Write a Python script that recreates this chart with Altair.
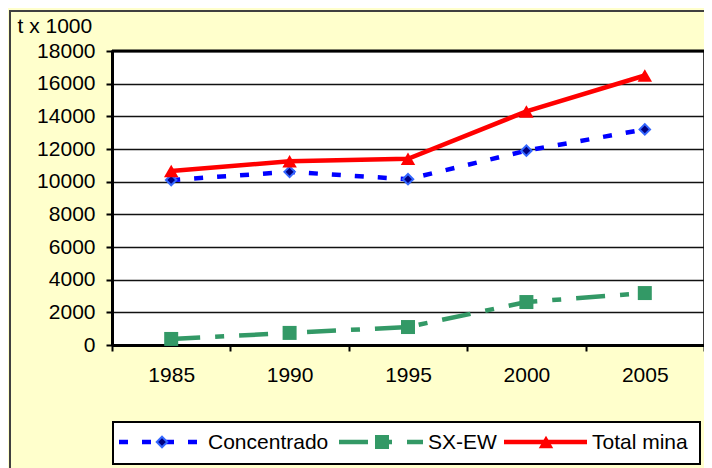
import altair as alt
import pandas as pd

years = ["1985", "1990", "1995", "2000", "2005"]
concentrado = [10100, 10600, 10150, 11900, 13200]
sxew = [370, 740, 1100, 2630, 3180]
total_mina = [10650, 11250, 11400, 14300, 16500]
series_names = ["Concentrado", "SX-EW", "Total mina"]
y_ticks = [0, 2000, 4000, 6000, 8000, 10000, 12000, 14000, 16000, 18000]

rows = []
for name, vals in zip(series_names, [concentrado, sxew, total_mina]):
    for yr, v in zip(years, vals):
        rows.append({"year": yr, "value": v, "series": name})
df = pd.DataFrame(rows)

FONT = "Liberation Sans"
FS = 21
W, H = 592, 294

styles = {
    "Concentrado": dict(color="#0000FF", dash=[9, 14], shape="diamond", size=110,
                        fill="#000080", stroke="#3366FF", sw=2),
    "SX-EW": dict(color="#339966", dash=[29, 15, 9, 15], shape="square", size=196,
                  fill="#339966", stroke=None, sw=0),
    "Total mina": dict(color="#FF0000", dash=None, shape="triangle-up", size=210,
                       fill="#FF0000", stroke=None, sw=0),
}

x_enc = alt.X(
    "year:O",
    sort=years,
    scale=alt.Scale(type="band", paddingInner=0, paddingOuter=0),
    bandPosition=0.5,
    axis=alt.Axis(
        title=None, labelAngle=0, labelFontSize=FS, labelFont=FONT, labelColor="#000",
        tickBand="extent", ticks=True, tickSize=6, tickColor="#000", tickWidth=2,
        domainColor="#000", domainWidth=3, labelPadding=13, grid=False,
    ),
)
y_enc = alt.Y(
    "value:Q",
    scale=alt.Scale(domain=[0, 18000], nice=False),
    axis=alt.Axis(
        values=y_ticks, title="t x 1000", titleAngle=0, titleX=-95, titleY=-25,
        titleAlign="left", titleBaseline="middle", titleFont=FONT, titleFontSize=FS,
        titleFontWeight="normal", titleColor="#000",
        labelFontSize=FS, labelFont=FONT, labelColor="#000", tickSize=6,
        tickColor="#000", tickWidth=2, domainColor="#000", domainWidth=3,
        labelPadding=11, grid=True, gridColor="#111", gridWidth=1.5, format="d",
    ),
)

base = alt.Chart(df)

# outer frame of the chart area
frame = alt.Chart(pd.DataFrame({"k": [0]})).mark_rect(
    fillOpacity=0, stroke="#404040", strokeWidth=2
).encode(x=alt.value(-102), x2=alt.value(620), y=alt.value(-40), y2=alt.value(440))

top_border = alt.Chart(pd.DataFrame({"k": [0]})).mark_rule(
    color="#000", strokeWidth=3
).encode(x=alt.value(0), x2=alt.value(W), y=alt.value(0))

layers = [frame]
for name in series_names:
    st = styles[name]
    sub = base.transform_filter(alt.datum.series == name)
    line_kw = dict(color=st["color"], strokeWidth=4.5)
    if st["dash"]:
        line_kw["strokeDash"] = st["dash"]
    line = sub.mark_line(**line_kw).encode(x=x_enc, y=y_enc)
    pt_kw = dict(shape=st["shape"], size=st["size"], filled=True, fill=st["fill"], opacity=1)
    if st["stroke"]:
        pt_kw.update(stroke=st["stroke"], strokeWidth=st["sw"])
    pts = sub.mark_point(**pt_kw).encode(x=x_enc, y=y_enc)
    layers += [line, pts]
layers.append(top_border)

# legend box
leg_y = 391
legend_box = alt.Chart(pd.DataFrame({"k": [0]})).mark_rect(
    fill="#FFFFFF", stroke="#000", strokeWidth=2
).encode(x=alt.value(1), x2=alt.value(588), y=alt.value(371), y2=alt.value(413))
layers.append(legend_box)

leg_pos = {
    "Concentrado": (7, 88, 50, 96),
    "SX-EW": (227, 311, 270, 316),
    "Total mina": (392, 475, 434, 480),
}
for name in series_names:
    st = styles[name]
    x1, x2, xm, xt = leg_pos[name]
    one = pd.DataFrame({"series": [name]})
    rk = dict(color=st["color"], strokeWidth=4.5)
    if st["dash"]:
        rk["strokeDash"] = st["dash"]
    layers.append(alt.Chart(one).mark_rule(**rk).encode(
        x=alt.value(x1), x2=alt.value(x2), y=alt.value(leg_y)))
    pk = dict(shape=st["shape"], size=st["size"], filled=True, fill=st["fill"], opacity=1)
    if st["stroke"]:
        pk.update(stroke=st["stroke"], strokeWidth=st["sw"])
    layers.append(alt.Chart(one).mark_point(**pk).encode(
        x=alt.value(xm), y=alt.value(leg_y)))
    layers.append(alt.Chart(one).mark_text(
        align="left", baseline="middle", font=FONT, fontSize=FS, color="#000"
    ).encode(x=alt.value(xt), y=alt.value(leg_y + 1), text="series:N"))

chart = alt.layer(*layers).properties(
    width=W, height=H,
    autosize=alt.AutoSizeParams(type="none"),
    padding={"left": 104, "top": 43, "right": 0, "bottom": 123},
    background="#FFFFCC",
).configure_view(
    fill="#FFFFFF", stroke="#000", strokeWidth=1.5
)

chart.save("out.html", embed_options={"renderer": "svg", "actions": False})
